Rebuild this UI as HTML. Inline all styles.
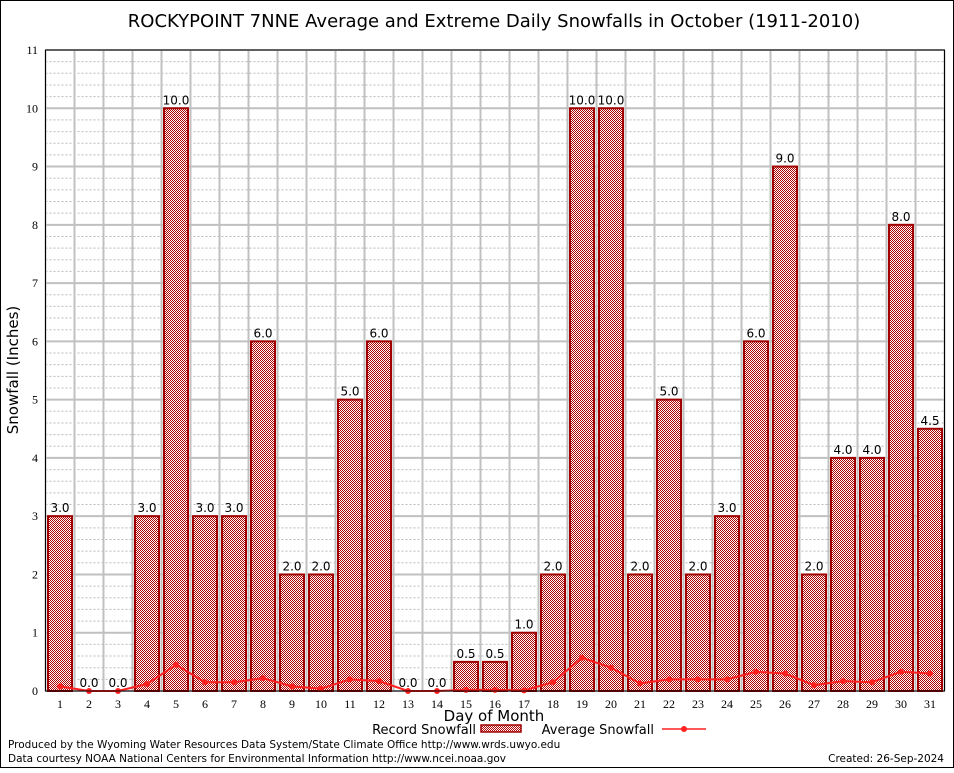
<!DOCTYPE html>
<html><head><meta charset="utf-8"><style>
body{margin:0;background:#fff;}
svg text{font-family:"DejaVu Sans","Liberation Sans",sans-serif;}
.tick{font-family:"Liberation Serif",serif;font-size:12px;}
</style></head><body>
<svg id="chart" width="954" height="768" viewBox="0 0 954 768">
<defs>
<pattern id="chk" width="2" height="2" patternUnits="userSpaceOnUse">
<rect width="2" height="2" fill="#fff"/><rect width="1" height="1" fill="#b00000"/><rect x="1" y="1" width="1" height="1" fill="#b00000"/>
</pattern>
</defs>
<rect x="0.5" y="0.5" width="953" height="767" fill="#fff" stroke="#000"/>
<text x="494" y="27" text-anchor="middle" font-size="18">ROCKYPOINT 7NNE Average and Extreme Daily Snowfalls in October (1911-2010)</text>
<g id="grid"></g>
<g id="bars"></g>
<g id="avg"></g>
<g id="axes"></g>
<text transform="translate(18,370) rotate(-90)" text-anchor="middle" font-size="15">Snowfall (Inches)</text>
<text x="494" y="721" text-anchor="middle" font-size="15">Day of Month</text>
<g>
<text x="476" y="734" text-anchor="end" font-size="13">Record Snowfall</text>
<rect x="481" y="725" width="40" height="7" fill="url(#chk)" stroke="#a00000" stroke-width="1.5"/>
<text x="654" y="734" text-anchor="end" font-size="13">Average Snowfall</text>
<line x1="662" y1="729" x2="706" y2="729" stroke="#ff2020" stroke-width="1.5"/>
<circle cx="684" cy="729" r="3" fill="#ff2020"/>
</g>
<text x="8" y="748" font-size="10.5">Produced by the Wyoming Water Resources Data System/State Climate Office http://www.wrds.uwyo.edu</text>
<text x="8" y="762" font-size="10.5">Data courtesy NOAA National Centers for Environmental Information http://www.ncei.noaa.gov</text>
<text x="944" y="762" text-anchor="end" font-size="10.5">Created: 26-Sep-2024</text>
</svg>
<script>
const days=[1,2,3,4,5,6,7,8,9,10,11,12,13,14,15,16,17,18,19,20,21,22,23,24,25,26,27,28,29,30,31];
const recordValues=[3,0,0,3,10,3,3,6,2,2,5,6,0,0,0.5,0.5,1,2,10,10,2,5,2,3,6,9,2,4,4,8,4.5];
const averageValues=[0.08,0,0,0.12,0.45,0.15,0.15,0.22,0.08,0.04,0.2,0.17,0,0,0.02,0.02,0.01,0.15,0.57,0.4,0.13,0.2,0.2,0.2,0.33,0.3,0.1,0.17,0.15,0.33,0.3];
const yTicks=[0,1,2,3,4,5,6,7,8,9,10,11];
const NS="http://www.w3.org/2000/svg";
const L=45.5,R=944.5,T=50,B=691,YMAX=11;
const dw=(R-L)/days.length;
const xc=d=>L+(d-0.5)*dw;
const y=v=>B-(v/YMAX)*(B-T);
function mk(tag,attrs,parent){const e=document.createElementNS(NS,tag);for(const k in attrs)e.setAttribute(k,attrs[k]);parent.appendChild(e);return e;}
const grid=document.getElementById('grid'),bars=document.getElementById('bars'),avg=document.getElementById('avg'),axes=document.getElementById('axes');
for(let v=0.2;v<YMAX;v+=0.2){if(Math.abs(v-Math.round(v))<0.01)continue;const ln=mk('line',{x1:L,x2:R,y1:y(v),y2:y(v),stroke:'#bbb','stroke-dasharray':'2,2','stroke-width':1},grid);

}
yTicks.forEach(t=>{const ln=mk('line',{x1:L,x2:R,y1:y(t),y2:y(t),stroke:'#c0c0c0','stroke-width':2},grid);


const tx=mk('text',{x:38,y:y(t)+4,'text-anchor':'end',class:'tick'},axes);tx.textContent=t;

});
for(let i=0;i<=days.length;i++){const x=L+i*dw;const ln=mk('line',{x1:x,x2:x,y1:T,y2:B,stroke:'#c0c0c0','stroke-width':2},grid);

}
days.forEach((d,i)=>{const v=recordValues[i];const cx=xc(d);
if(v>0){const r=mk('rect',{x:cx-12,y:y(v),width:24,height:B-y(v),fill:'url(#chk)',stroke:'#a00000','stroke-width':2},bars);

}
const lb=mk('text',{x:cx,y:y(v)-4,'text-anchor':'middle','font-size':12},bars);lb.textContent=v.toFixed(1);


const tl=mk('text',{x:cx,y:708,'text-anchor':'middle',class:'tick'},axes);tl.textContent=d;

});
const pts=days.map((d,i)=>xc(d)+','+y(averageValues[i])).join(' ');
const pl=mk('polyline',{points:pts,fill:'none',stroke:'#ff2020','stroke-width':2},avg);


days.forEach((d,i)=>{const c=mk('circle',{cx:xc(d),cy:y(averageValues[i]),r:3,fill:'#ff2020'},avg);

});
const fr=mk('rect',{x:L,y:T,width:R-L,height:B-T,fill:'none',stroke:'#000','stroke-width':1},axes);


</script>
</body></html>
